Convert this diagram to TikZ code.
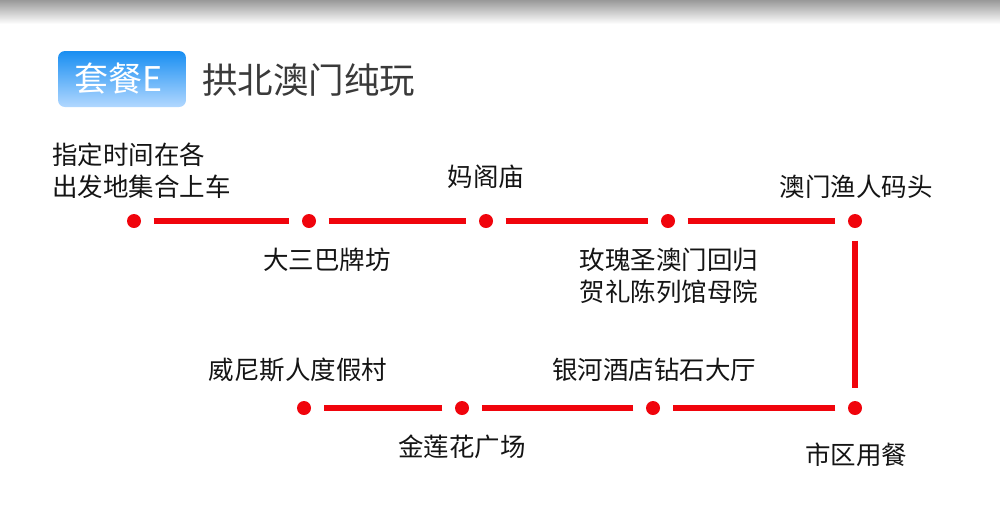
\documentclass[tikz,border=0pt]{standalone}
\usepackage{fontspec}
\setmainfont{Noto Sans CJK SC}
\usepackage{xcolor}
\usetikzlibrary{arrows.meta}

\definecolor{routered}{RGB}{240,4,12}
\definecolor{badgetop}{RGB}{24,142,242}
\definecolor{badgebottom}{RGB}{178,216,255}
\definecolor{titlegray}{RGB}{58,58,58}

\begin{document}
\begin{tikzpicture}[x=1pt,y=-1pt,
		stop/.style={circle,fill=routered,minimum size=14pt,inner sep=0pt},
		leg/.style={draw=routered,line width=5.5pt,shorten <=12.5pt,shorten >=12.5pt},
		stoptext/.style={font=\fontsize{25.5}{32}\selectfont,text=black!92,inner sep=0pt},
		oneline/.style={stoptext,text height=22.4pt,text depth=3.1pt}]
		\useasboundingbox (0,0) rectangle (1000,507);
		\shade[top color=black!40,bottom color=white] (0,0) rectangle (1000,24);

		\node[rounded corners=7pt,top color=badgetop,bottom color=badgebottom,
			minimum width=128pt,minimum height=56pt,inner sep=0pt,text=white,
			font=\fontsize{34}{34}\selectfont] at (122,79) (badge) {套餐E\hspace*{6pt}};
		\node[anchor=west,inner sep=0pt,text=titlegray,
			font=\fontsize{35.5}{35.5}\selectfont,text height=31.2pt,text depth=4.3pt]
			at (202,80) (title) {拱北澳门纯玩};

		\node[stop] at (134, 221) (gongbei) {};
		\node[stop] at (309, 221) (ruins) {};
		\node[stop] at (486, 221) (amatemple) {};
		\node[stop] at (668, 221) (museum) {};
		\node[stop] at (855, 221) (wharf) {};
		\node[stop] at (855, 408) (lunch) {};
		\node[stop] at (653, 408) (galaxy) {};
		\node[stop] at (462, 408) (lotus) {};
		\node[stop] at (304, 408) (venetian) {};

		\node[stoptext,align=left,anchor=west] at (52, 171) (gongbei-text)
			{指定时间在各 \\ 出发地集合上车};
		\node[oneline] at (327, 260) (ruins-text) {大三巴牌坊};
		\node[oneline] at (486, 177) (amatemple-text) {妈阁庙};
		\node[stoptext,align=left] at (669, 276) (museum-text)
			{玫瑰圣澳门回归 \\ 贺礼陈列馆母院};
		\node[oneline] at (856, 187) (wharf-text) {澳门渔人码头};
		\node[oneline] at (856, 455) (lunch-text) {市区用餐};
		\node[oneline] at (654, 370) (galaxy-text) {银河酒店钻石大厅};
		\node[oneline] at (462, 447) (lotus-text) {金莲花广场};
		\node[oneline] at (298, 370) (venetian-text) {威尼斯人度假村};

		\draw[leg] (gongbei) -- (ruins);
		\draw[leg] (ruins) -- (amatemple);
		\draw[leg] (amatemple) -- (museum);
		\draw[leg] (museum) -- (wharf);
		\draw[leg] (wharf) -- (lunch);
		\draw[leg] (lunch) -- (galaxy);
		\draw[leg] (galaxy) -- (lotus);
		\draw[leg] (lotus) -- (venetian);
	\end{tikzpicture}
\end{document}
